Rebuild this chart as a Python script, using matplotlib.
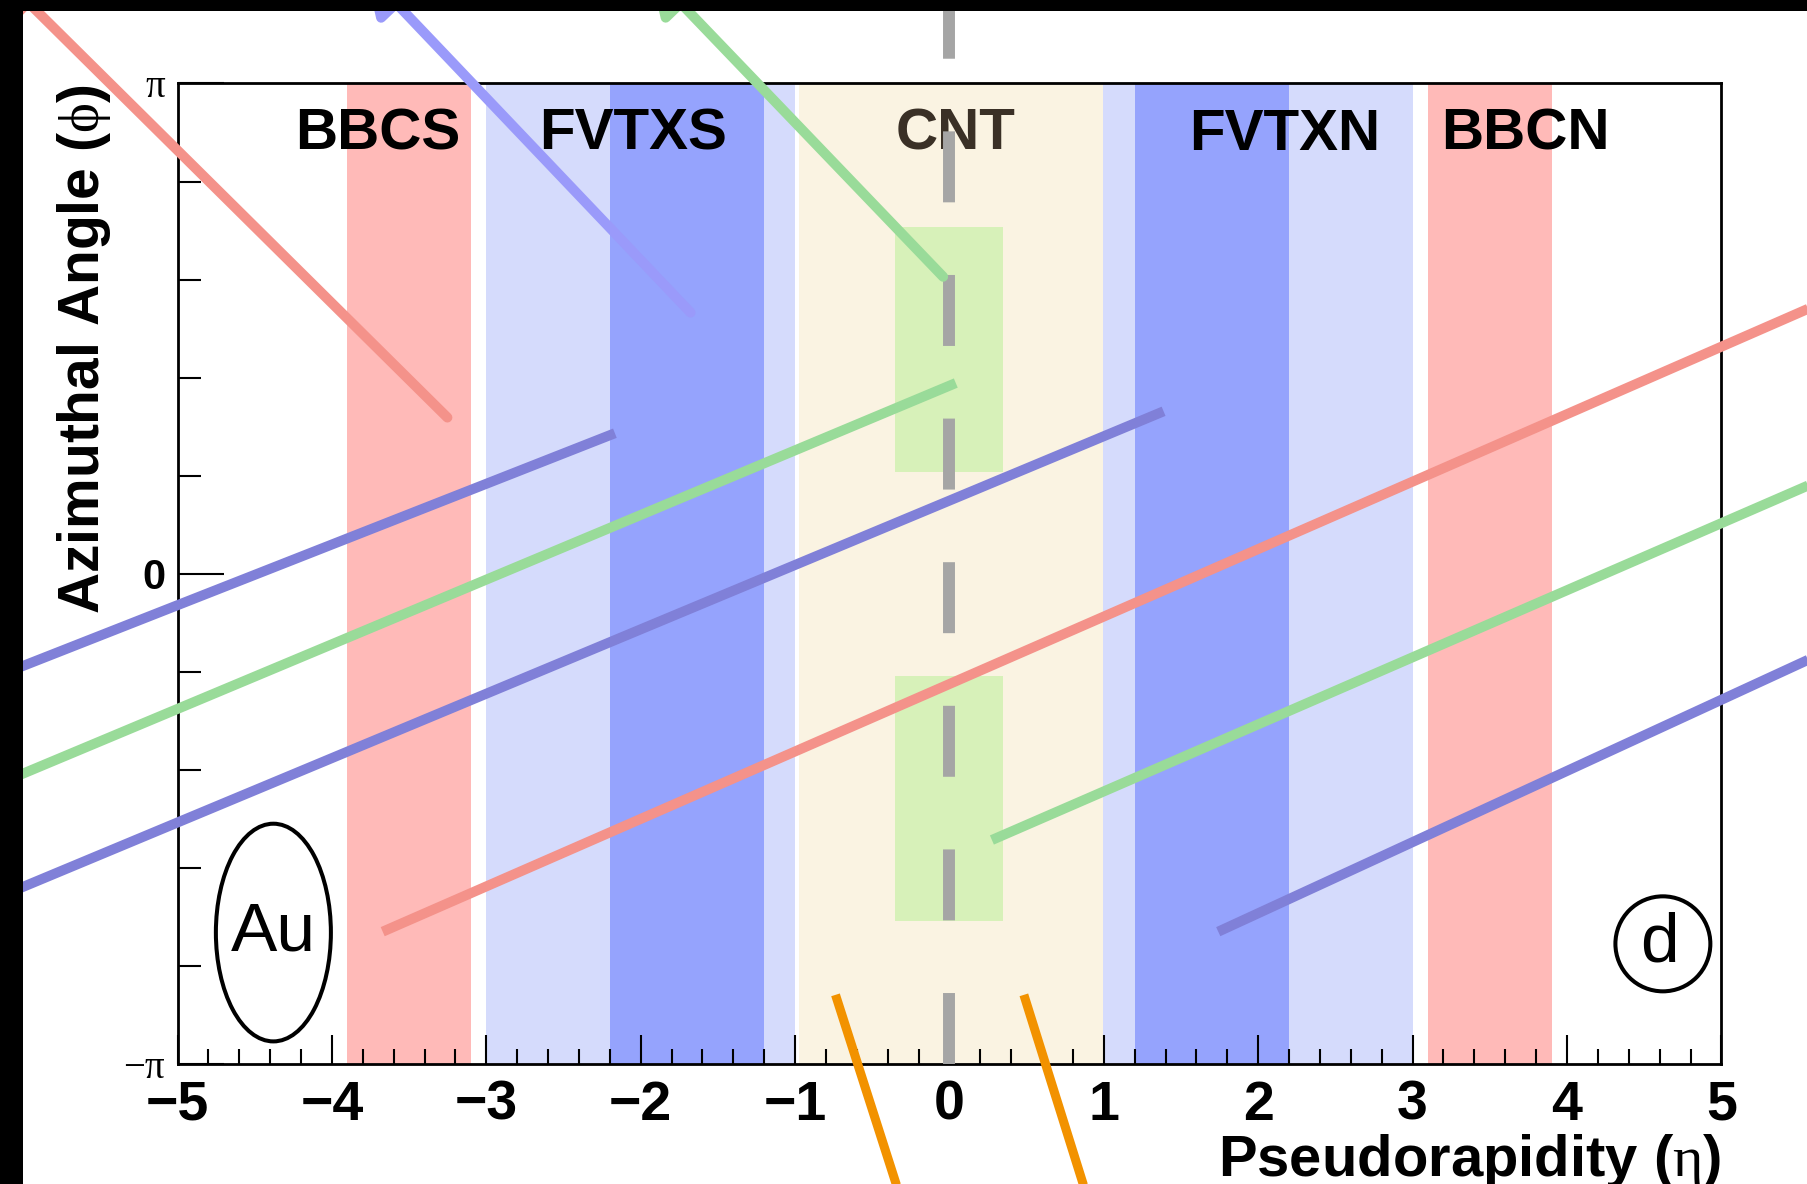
import numpy as np
import matplotlib.pyplot as plt
from matplotlib.patches import Ellipse, Rectangle

plt.rcParams['font.family'] = ['Liberation Sans', 'DejaVu Sans']
plt.rcParams['mathtext.fontset'] = 'custom'
plt.rcParams['mathtext.rm'] = 'Liberation Serif'
plt.rcParams['mathtext.it'] = 'Liberation Serif:italic'
plt.rcParams['lines.scale_dashes'] = False

# detector acceptance in pseudorapidity (phi given in units of pi)
bbc_eta    = [(-3.9, -3.1), (3.1, 3.9)]
fvtx_outer = [(-3.0, -1.0), (0.995, 3.0)]
fvtx_inner = [(-2.2, -1.2), (1.2, 2.2)]
cnt_eta    = (-0.975, 0.995)
arm_eta    = (-0.35, 0.35)
arm_phi    = [(0.208, 0.708), (-0.708, -0.208)]

det_names    = ["BBCS", "FVTXS", "CNT", "FVTXN", "BBCN"]
det_name_eta = [-3.70, -2.05, 0.04, 2.17, 3.73]
det_name_phi = 0.895

# straight tracks: start (eta, phi/pi) -> end (eta, phi/pi)
track_start = [(-6.3, -0.2245), (-6.3, -0.4464), (-6.3, -0.6772),
               (-3.671, -0.7292), (0.275, -0.5423), (1.741, -0.7292),
               (-0.738, -0.858), (0.482, -0.858)]
track_end   = [(-2.167, 0.287), (0.041, 0.3893), (1.387, 0.3317),
               (5.724, 0.563), (5.724, 0.2026), (5.724, -0.1514),
               (-0.290, -1.298), (0.920, -1.298)]
track_kind  = ["blue", "green", "blue", "red", "green", "blue", "orange", "orange"]

# tracks leaving through the top edge (tail -> arrow tip)
arrow_tail = [(-3.252, 0.319), (-1.677, 0.533), (-0.041, 0.606)]
arrow_tip  = [(-6.172, 1.229), (-3.782, 1.229), (-1.940, 1.229)]
arrow_kind = ["red", "lightblue", "green"]

xtick_vals = list(range(-5, 6))

colors = {"red": "#f4928a", "blue": "#8080d8", "green": "#99db99",
          "orange": "#f29200", "lightblue": "#9a9afa"}

fig = plt.figure(figsize=(18.08, 11.84), dpi=100)
ax = fig.add_axes([0.09818, 0.10093, 0.85392, 0.82855])
ax.set_xlim(-5, 5)
ax.set_ylim(-np.pi, np.pi)

for lo, hi in bbc_eta:
    ax.axvspan(lo, hi, color="#ffbab8", lw=0, zorder=0)
for lo, hi in fvtx_outer:
    ax.axvspan(lo, hi, color="#d5dbfc", lw=0, zorder=0)
for lo, hi in fvtx_inner:
    ax.axvspan(lo, hi, color="#95a3fd", lw=0, zorder=0.1)
ax.axvspan(cnt_eta[0], cnt_eta[1], color="#faf3e2", lw=0, zorder=0)
for lo, hi in arm_phi:
    ax.add_patch(Rectangle((arm_eta[0], lo * np.pi), arm_eta[1] - arm_eta[0],
                           (hi - lo) * np.pi, color="#d7f1b9", lw=0, zorder=0.5))

for name, eta in zip(det_names, det_name_eta):
    ax.text(eta, det_name_phi * np.pi, name, ha="center", va="center",
            fontsize=42, fontweight="bold",
            color="#3a3026" if name == "CNT" else "black", zorder=2)

# beam axis at eta = 0
ax.plot([0, 0], [-np.pi, 1.19 * np.pi], color="#a5a5a5", lw=8.6,
        dashes=(51.1, 52.3), clip_on=False, zorder=3)

for (x0, y0), (x1, y1), k in zip(track_start, track_end, track_kind):
    ax.plot([x0, x1], [y0 * np.pi, y1 * np.pi], color=colors[k],
            lw=6.5 if k == "orange" else 7.2, solid_capstyle="butt",
            clip_on=False, zorder=4)

for (x0, y0), (x1, y1), k in zip(arrow_tail, arrow_tip, arrow_kind):
    ax.annotate("", xy=(x1, y1 * np.pi), xytext=(x0, y0 * np.pi),
                arrowprops=dict(arrowstyle="-|>,head_length=1.0,head_width=0.6",
                                color=colors[k], lw=7.2, shrinkA=0, shrinkB=0,
                                mutation_scale=25),
                annotation_clip=False, zorder=4)

# collision system markers
ax.add_patch(Ellipse((-4.379, -0.731 * np.pi), 0.745, 0.4438 * np.pi,
                     fill=False, ec="black", lw=2.9, zorder=5))
ax.text(-4.379, -0.731 * np.pi, "Au", ha="center", va="center",
        fontsize=50, zorder=5)
ax.add_patch(Ellipse((4.621, -0.754 * np.pi), 0.615, 0.1937 * np.pi,
                     fill=False, ec="black", lw=2.9, zorder=5))
ax.text(4.60, -0.754 * np.pi, "d", ha="center", va="center",
        fontsize=50, zorder=5)

for s in ax.spines.values():
    s.set_linewidth(2)

ax.set_xticks(xtick_vals, labels=[str(v).replace("-", "\u2212") for v in xtick_vals])
ax.set_xticks(np.arange(-5, 5.01, 0.2), minor=True)
ax.set_yticks([-np.pi, 0, np.pi], labels=["\u2212\u03c0", "0", "\u03c0"])
ax.set_yticks(np.arange(-1, 1.01, 0.2) * np.pi, minor=True)
ax.tick_params(axis="x", which="major", direction="in", length=21, width=1.5,
               pad=11, labelsize=40)
ax.tick_params(axis="x", which="minor", direction="in", length=10.8, width=1.5)
ax.tick_params(axis="y", which="major", direction="in", length=33, width=1.5,
               pad=9)
ax.tick_params(axis="y", which="minor", direction="in", length=16.6, width=1.5)
for lab in ax.get_xticklabels():
    lab.set_fontweight("bold")
for lab in ax.get_yticklabels():
    if lab.get_text() == "0":
        lab.set_fontweight("bold")
        lab.set_fontsize(30)
    else:
        lab.set_fontfamily("Liberation Serif")
        lab.set_fontsize(28)

fig.text(0.952, 0.0068, "Pseudorapidity ($\\mathrm{\\eta}$)", ha="right",
         va="baseline", fontsize=41.8, fontweight="bold")
fig.text(0.0467, 0.9282, "Azimuthal Angle ($\\mathrm{\\phi}$)", rotation=90,
         ha="center", va="top", fontsize=41, fontweight="bold")

# frame edges
fig.add_artist(Rectangle((0, 0), 23 / 1808, 1, transform=fig.transFigure,
                         color="black", lw=0, zorder=10))
fig.add_artist(Rectangle((0, 1 - 11 / 1184), 1, 11 / 1184,
                         transform=fig.transFigure, color="black", lw=0,
                         zorder=10))

fig.savefig("out.png", dpi=100)
